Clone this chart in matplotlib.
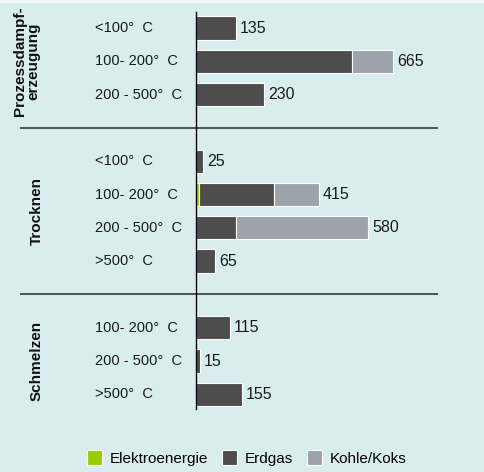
import numpy as np
import matplotlib
matplotlib.use('Agg')
import matplotlib.pyplot as plt
from matplotlib.patches import Patch, Rectangle

# Energy use by process and temperature range
groups = ['Prozessdampf-\nerzeugung', 'Trocknen', 'Schmelzen']
categories = [
    ['<100°  C', '100- 200°  C', '200 - 500°  C'],
    ['<100°  C', '100- 200°  C', '200 - 500°  C', '>500°  C'],
    ['100- 200°  C', '200 - 500°  C', '>500°  C'],
]
elektro = [[0, 0, 0], [0, 10, 0, 0], [0, 0, 0]]
erdgas = [[135, 525, 230], [25, 255, 135, 65], [115, 15, 155]]
kohle = [[0, 140, 0], [0, 150, 445, 0], [0, 0, 0]]
totals = [[135, 665, 230], [25, 415, 580, 65], [115, 15, 155]]

series_names = ['Elektroenergie', 'Erdgas', 'Kohle/Koks']
colors = ['#99cc00', '#4d4d4d', '#9ca3aa']
bg = '#daedee'

plt.rcParams['font.family'] = ['Liberation Sans', 'DejaVu Sans']

W, H = 484, 472
dpi = 100
fig = plt.figure(figsize=(W / dpi, H / dpi), dpi=dpi, facecolor=bg)
# thin white strip along the top edge
fig.patches.append(Rectangle((0, 1 - 3 / H), 1, 3 / H, transform=fig.transFigure,
                             facecolor='#f2f8f8', edgecolor='none'))
ax = fig.add_axes([0, 0, 1, 466 / H])

# pixel geometry -> data coordinates
x0_px = 195.7          # position of value axis
px_per_unit = 0.297
row0_px = 28 - 6       # first row centre (axes is 6 px shorter on top)
row_px = 33.3
ax_h = 466

def xd(px):
    return (px - x0_px) / px_per_unit

def yd(px):
    return (px - row0_px) / row_px

ax.set_xlim(xd(0), xd(W))
ax.set_ylim(yd(ax_h), yd(0))
ax.axis('off')

fs = 10.5
fs_val = 11.5
bar_h = 0.7
slot = 0
for g, (gname, cats) in enumerate(zip(groups, categories)):
    start = slot
    for i, cat in enumerate(cats):
        y = slot
        left = 0
        for vals, c in zip([elektro, erdgas, kohle], colors):
            v = vals[g][i]
            if v > 0:
                ax.barh(y, v, left=left, height=bar_h, color=c,
                        edgecolor='white', linewidth=0.8)
                left += v
        ax.text(totals[g][i] + xd(x0_px + 4), y, str(totals[g][i]),
                va='center', ha='left', fontsize=fs_val, color='#1a1a1a')
        ax.text(xd(95), y, cat, va='center', ha='left', fontsize=fs,
                color='#1a1a1a')
        slot += 1
    mid = (start + slot - 1) / 2
    gx = 27 if g == 0 else 37
    ax.text(xd(gx), mid, gname, rotation=90, va='center', ha='center',
            fontsize=11, fontweight='bold', linespacing=0.95, color='#111111')
    if g < len(groups) - 1:
        ax.plot([xd(20), xd(438)], [slot, slot], color='#3f4848',
                linewidth=1.3, solid_capstyle='butt')
        slot += 1

# value axis
ax.plot([0, 0], [yd(12 - 6), yd(409 - 6)], color='black', linewidth=1.0)

handles = [Patch(facecolor=c, edgecolor='white', linewidth=0.8) for c in colors]
fig.legend(handles, series_names, loc='center', bbox_to_anchor=(0.51, 1 - 458 / H),
           ncol=3, frameon=False, fontsize=11, handlelength=1.0,
           handleheight=1.15, handletextpad=0.5, columnspacing=0.9)

fig.savefig('out.png', dpi=dpi, facecolor=bg)
